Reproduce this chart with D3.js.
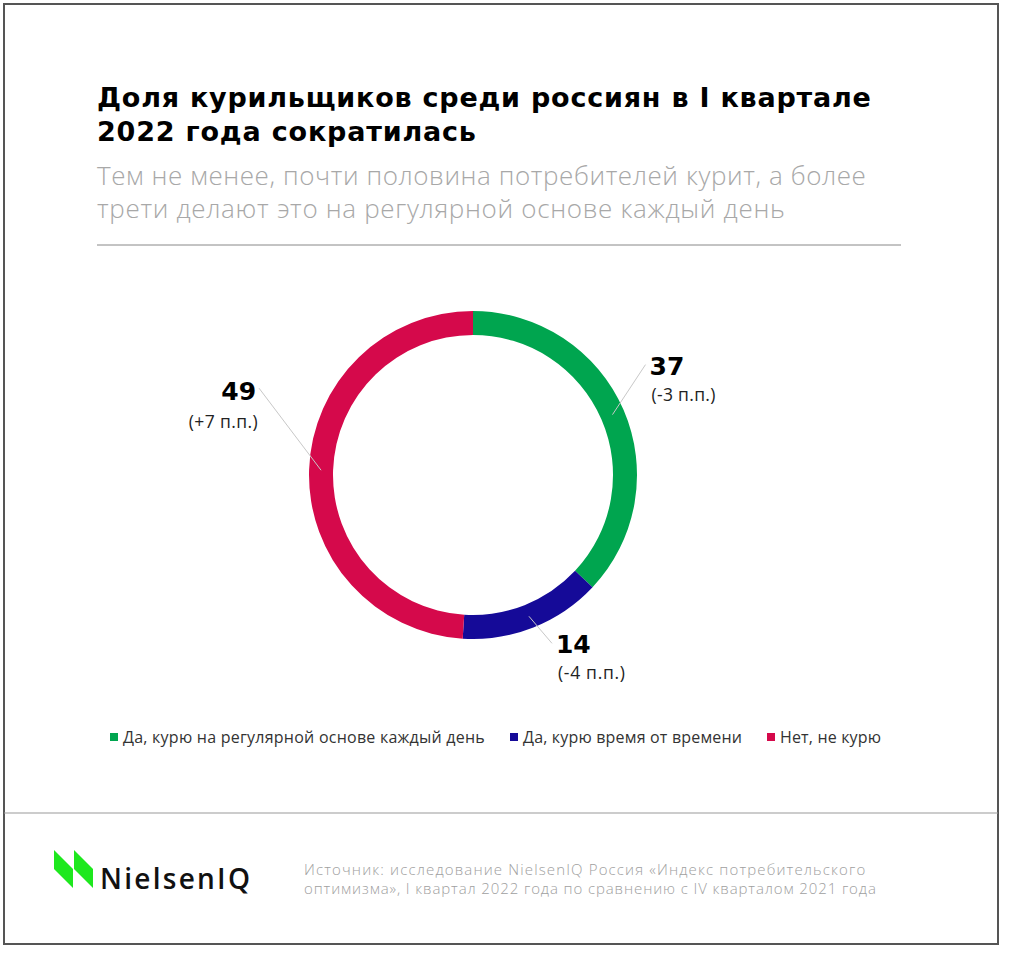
<!DOCTYPE html>
<html>
<head>
<meta charset="utf-8">
<script src="https://cdn.jsdelivr.net/npm/d3@7"></script>
<style>
  body { margin: 0; background: #fff; }
  svg { display: block; font-family: "Open Sans", Inter, sans-serif; }
  .heavy { font-family: "DejaVu Sans", Inter, sans-serif; font-weight: 700; }
</style>
</head>
<body>
<div class="chart"></div>
<script>
// data
var categories = ["Да, курю на регулярной основе каждый день", "Да, курю время от времени", "Нет, не курю"];
var values = [37, 14, 49];
var changes = ["(-3 п.п.)", "(-4 п.п.)", "(+7 п.п.)"];
var colors = ["#00a54f", "#150a98", "#d5094b"];

// leader line offsets from the slice centroid (layout only)
var leaderOffsets = [[33, -50], [23, 27], [-62, -82]];
var changeWidths = [64, 67, 69];

var width = 1024;
var height = 957;

var svg = d3
  .select(".chart")
  .append("svg")
  .attr("width", width)
  .attr("height", height);

// stretch a text/tspan to a target width with letter spacing
function fit(sel, target) {
  sel.each(function () {
    var node = this;
    var n = node.textContent.length;
    var len = node.getComputedTextLength();
    var ls = (target - len) / Math.max(n - 1, 1);
    d3.select(node).attr("letter-spacing", ls.toFixed(2));
  });
}

// frame
svg.append("rect")
  .attr("x", 4).attr("y", 4)
  .attr("width", 994).attr("height", 940)
  .attr("fill", "#fff")
  .attr("stroke", "#555")
  .attr("stroke-width", 2);

svg.append("line")
  .attr("x1", 4).attr("x2", 998)
  .attr("y1", 813).attr("y2", 813)
  .attr("stroke", "#999").attr("stroke-width", 1.2);

// header
var title = svg.append("text")
  .attr("class", "heavy")
  .attr("x", 97).attr("y", 107)
  .attr("font-size", "27px")
  .attr("fill", "#000");
fit(title.append("tspan").text("Доля курильщиков среди россиян в I квартале"), 774);
fit(title.append("tspan").attr("x", 97).attr("dy", 34).text("2022 года сократилась"), 379);

var subtitle = svg.append("text")
  .attr("x", 97).attr("y", 185)
  .attr("font-size", "26px")
  .attr("font-weight", 300)
  .attr("fill", "#a8a8a8");
fit(subtitle.append("tspan").text("Тем не менее, почти половина потребителей курит, а более"), 769);
fit(subtitle.append("tspan").attr("x", 97).attr("dy", 33).text("трети делают это на регулярной основе каждый день"), 688);

svg.append("line")
  .attr("x1", 97).attr("x2", 901)
  .attr("y1", 245).attr("y2", 245)
  .attr("stroke", "#888").attr("stroke-width", 1);

// donut
var cx = 473, cy = 475;
var outerR = 164, innerR = 140;

var pie = d3.pie().sort(null).value(function (d) { return d; });
var arc = d3.arc().innerRadius(innerR).outerRadius(outerR);
var arcs = pie(values);

var donut = svg.append("g")
  .attr("class", "donut")
  .attr("transform", "translate(" + cx + "," + cy + ")");

donut.selectAll("path")
  .data(arcs)
  .enter()
  .append("path")
  .attr("d", arc)
  .attr("fill", function (d, i) { return colors[i]; });

// labels with leader lines
var labels = donut.selectAll(".label")
  .data(arcs)
  .enter()
  .append("g")
  .attr("class", "label");

labels.append("line")
  .attr("x1", function (d) { return arc.centroid(d)[0]; })
  .attr("y1", function (d) { return arc.centroid(d)[1]; })
  .attr("x2", function (d, i) { return arc.centroid(d)[0] + leaderOffsets[i][0]; })
  .attr("y2", function (d, i) { return arc.centroid(d)[1] + leaderOffsets[i][1]; })
  .attr("stroke", "#c8c8c8")
  .attr("stroke-width", 1);

function isLeft(i) { return leaderOffsets[i][0] < 0; }

labels.append("text")
  .attr("class", "heavy")
  .attr("x", function (d, i) { return arc.centroid(d)[0] + leaderOffsets[i][0] + (isLeft(i) ? -3 : 4); })
  .attr("y", function (d, i) { return arc.centroid(d)[1] + leaderOffsets[i][1] + (isLeft(i) ? 12 : 10); })
  .attr("text-anchor", function (d, i) { return isLeft(i) ? "end" : "start"; })
  .attr("font-size", "25px")
  .attr("fill", "#000")
  .text(function (d) { return d.data; });

labels.append("text")
  .attr("x", function (d, i) { return arc.centroid(d)[0] + leaderOffsets[i][0] + (isLeft(i) ? -1 : 6); })
  .attr("y", function (d, i) { return arc.centroid(d)[1] + leaderOffsets[i][1] + (isLeft(i) ? 40 : 36); })
  .attr("text-anchor", function (d, i) { return isLeft(i) ? "end" : "start"; })
  .attr("font-size", "17.5px")
  .attr("fill", "#222")
  .text(function (d, i) { return changes[i]; })
  .each(function (d, i) { fit(d3.select(this), changeWidths[i]); });

// legend
var legendX = [110, 510, 767];
var legendW = [362, 219, 101];
var legend = svg.append("g").attr("class", "legend");

var items = legend.selectAll("g")
  .data(categories)
  .enter()
  .append("g")
  .attr("transform", function (d, i) { return "translate(" + legendX[i] + ",737)"; });

items.append("rect")
  .attr("x", 0).attr("y", -4)
  .attr("width", 8).attr("height", 8)
  .attr("fill", function (d, i) { return colors[i]; });

items.append("text")
  .attr("x", 13).attr("y", 5.5)
  .attr("font-size", "16px")
  .attr("fill", "#333")
  .text(function (d) { return d; })
  .each(function (d, i) { fit(d3.select(this), legendW[i]); });

// footer logo
var logo = svg.append("g").attr("class", "logo");
[0, 20].forEach(function (dx) {
  logo.append("path")
    .attr("d", "M" + (54 + dx) + ",850 L" + (73 + dx) + ",869 L" + (73 + dx) + ",888 L" + (54 + dx) + ",869 Z")
    .attr("fill", "#1ee81e");
});
var logoText = logo.append("text")
  .attr("x", 100).attr("y", 889)
  .attr("font-size", "28px")
  .attr("font-weight", 600)
  .attr("fill", "#111")
  .text("NielsenIQ");
fit(logoText, 150);

var source = svg.append("text")
  .attr("x", 304).attr("y", 875)
  .attr("font-size", "15px")
  .attr("font-weight", 300)
  .attr("fill", "#a0a0a0");
fit(source.append("tspan").text("Источник: исследование NielsenIQ Россия «Индекс потребительского"), 561);
fit(source.append("tspan").attr("x", 304).attr("dy", 19).text("оптимизма», I квартал 2022 года по сравнению с IV кварталом 2021 года"), 572);
</script>
</body>
</html>
